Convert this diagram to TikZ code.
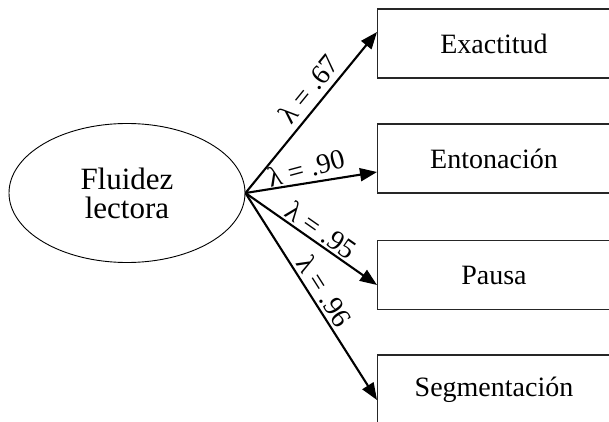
\documentclass[tikz,border=0pt]{standalone}
\usepackage{fontspec}
\setmainfont{Liberation Serif}
\usetikzlibrary{shapes.geometric,arrows.meta}
\begin{document}
\begin{tikzpicture}[x=1pt,y=1pt,
  font=\fontsize{28}{30}\selectfont,
  latent/.style={ellipse, draw, line width=0.9pt, minimum width=236pt,
    minimum height=139pt, inner sep=0pt, align=center,
    font=\fontsize{31}{32}\selectfont},
  indicator/.style={rectangle, draw=black!85, line width=1.3pt, minimum width=240pt,
    minimum height=69pt, inner sep=0pt, anchor=west},
  loading/.style={-{Triangle[length=17pt,width=13pt]}, line width=2.1pt},
  lab/.style={font=\fontsize{28}{28}\selectfont, inner sep=0pt}]
\useasboundingbox (0,0) rectangle (609,421);
\clip (0,0) rectangle (609,421);

% latent factor
\node[latent] (f) at (127,228) {Fluidez\\[-3pt]lectora};

% observed indicators (right side runs past the edge)
\node[indicator] (b1) at (377,377.5) {};
\node[indicator] (b2) at (377,262.5) {};
\node[indicator] (b3) at (377,146) {};
\node[indicator] (b4) at (377,31.5) {};
\node (t1) at (494,377.5) {Exactitud};
\node (t2) at (494,262.5) {Entonación};
\node (t3) at (494,146) {Pausa};
\node (t4) at (494,31.5) {Segmentación};

% factor loadings
\draw[loading] (f.east) -- ([yshift=11.5pt]b1.west)
  node[lab, pos=0.58, sloped, above=6pt] {λ = .67};
\draw[loading] (f.east) -- ([yshift=-13.5pt]b2.west);
\node[lab, rotate=15] (l2) at (306,253) {λ = .90};
\draw[loading] (f.east) -- ([yshift=-10pt]b3.west)
  node[lab, pos=0.52, sloped, above=2pt] {λ = .95};
\draw[loading] (f.east) -- ([yshift=-10.5pt]b4.west)
  node[lab, pos=0.51, sloped, above=3pt] {λ = .96};
\end{tikzpicture}
\end{document}
